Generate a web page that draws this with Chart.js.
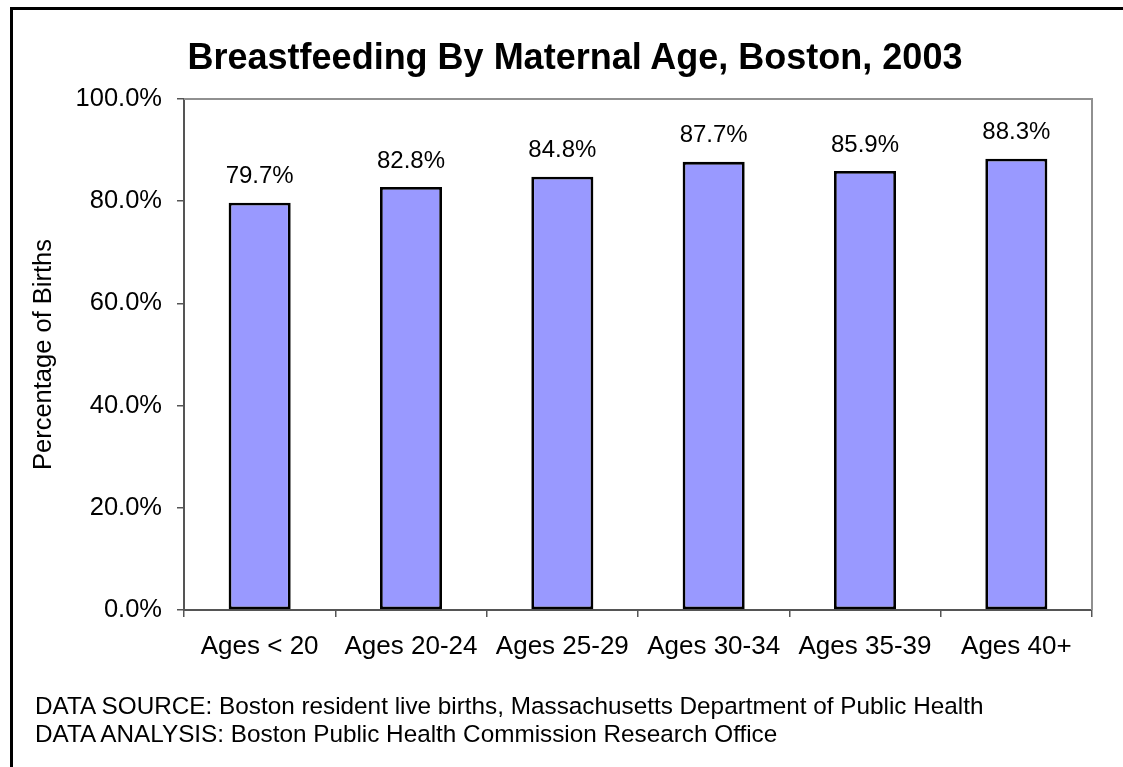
<!DOCTYPE html>
<html>
<head>
<meta charset="utf-8">
<script src="https://cdn.jsdelivr.net/npm/chart.js@4/dist/chart.umd.min.js"></script>
<style>
  html, body { margin: 0; padding: 0; background: #fff; overflow: hidden; }
  body { width: 1123px; height: 767px; position: relative; font-family: 'Liberation Sans', Arial, sans-serif; }
  #frame { position: absolute; left: 10px; top: 7px; width: 1200px; height: 900px; border: 3px solid #000; box-sizing: border-box; }
  #title { position: absolute; left: 0; top: 37px; width: 1150px; text-align: center; font-weight: bold; font-size: 36px; line-height: 40px; color: #000; }
  #notes { position: absolute; left: 35px; top: 692px; font-size: 24.3px; line-height: 28px; color: #000; white-space: nowrap; }
  #wrap { position: absolute; left: 0; top: 0; width: 1123px; height: 767px; }
</style>
</head>
<body>
<div id="frame"></div>
<div id="wrap"><canvas id="barChart" width="1123" height="767"></canvas></div>
<div id="title">Breastfeeding By Maternal Age, Boston, 2003</div>
<div id="notes">
  DATA SOURCE: Boston resident live births, Massachusetts Department of Public Health<br>
  DATA ANALYSIS: Boston Public Health Commission Research Office
</div>
<script>
// data
const ageGroups = ['Ages < 20', 'Ages 20-24', 'Ages 25-29', 'Ages 30-34', 'Ages 35-39', 'Ages 40+'];
const breastfedPct = [79.7, 82.8, 84.8, 87.7, 85.9, 88.3];
const yTicks = [0, 20, 40, 60, 80, 100];

const FONT = "'Liberation Sans', Arial, sans-serif";

// gray box round the plot area (top + right sides)
const plotFrame = {
  id: 'plotFrame',
  beforeDatasetsDraw(chart) {
    const {ctx, chartArea: a} = chart;
    ctx.save();
    ctx.strokeStyle = '#909090';
    ctx.lineWidth = 2;
    ctx.beginPath();
    ctx.moveTo(a.left, a.top);
    ctx.lineTo(a.right, a.top);
    ctx.lineTo(a.right, a.bottom);
    ctx.stroke();
    ctx.restore();
  }
};

// value labels over each bar
const barLabels = {
  id: 'barLabels',
  afterDatasetsDraw(chart) {
    const ctx = chart.ctx;
    const meta = chart.getDatasetMeta(0);
    ctx.save();
    ctx.font = '24px ' + FONT;
    ctx.fillStyle = '#000';
    ctx.textAlign = 'center';
    ctx.textBaseline = 'middle';
    meta.data.forEach((bar, i) => {
      ctx.fillText(breastfedPct[i].toFixed(1) + '%', bar.x, bar.y - 26);
    });
    ctx.restore();
  }
};

const barCtx = document.getElementById('barChart').getContext('2d');
const barChart = new Chart(barCtx, {
  type: 'bar',
  data: {
    labels: ageGroups,
    datasets: [{
      label: 'Breastfeeding',
      data: breastfedPct,
      backgroundColor: '#9999FF',
      borderColor: '#000',
      borderWidth: 2.8,
      borderSkipped: false,
      categoryPercentage: 1,
      barPercentage: 0.41
    }]
  },
  options: {
    responsive: false,
    animation: false,
    layout: {padding: {top: 99, right: 31, bottom: 0, left: 0}},
    plugins: {legend: {display: false}, tooltip: {enabled: false}},
    scales: {
      x: {
        offset: true,
        grid: {offset: true, drawOnChartArea: false, tickLength: 7, color: '#555', lineWidth: 1.5},
        border: {color: '#555', width: 2},
        ticks: {color: '#000', font: {family: FONT, size: 26}, padding: 14, maxRotation: 0},
        afterFit: (s) => { s.height = 157; }
      },
      y: {
        min: 0,
        max: 100,
        afterBuildTicks: (s) => { s.ticks = yTicks.map(v => ({value: v})); },
        grid: {drawOnChartArea: false, tickLength: 7, color: '#555', lineWidth: 1.5},
        border: {color: '#555', width: 2},
        ticks: {
          color: '#000',
          font: {family: FONT, size: 25.5},
          padding: 15,
          callback: (v) => v.toFixed(1) + '%'
        },
        title: {display: true, text: 'Percentage of Births', color: '#000', font: {family: FONT, size: 25.5}, padding: {top: 29, bottom: 0}},
        afterFit: (s) => { s.width = 184; }
      }
    }
  },
  plugins: [plotFrame, barLabels]
});
</script>
</body>
</html>
